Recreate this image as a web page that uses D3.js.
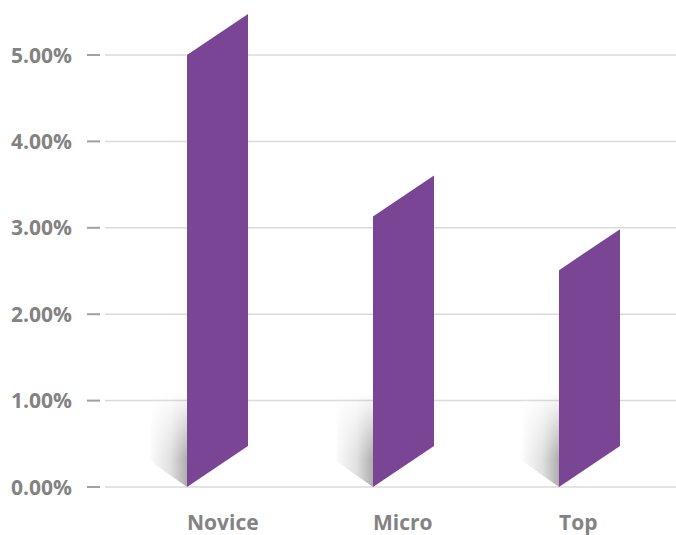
<!DOCTYPE html>
<html>
<head>
<meta charset="utf-8">
<script src="https://cdn.jsdelivr.net/npm/d3@7"></script>
<style>
  html, body { margin: 0; padding: 0; background: #fff; }
  svg { display: block; }
  text { font-family: "Open Sans", "DejaVu Sans", sans-serif; font-weight: 700; fill: #838383; }
</style>
</head>
<body>
<script>
const categories = ["Novice", "Micro", "Top"];
const values = [0.0500, 0.0313, 0.0251];
const tickValues = [0, 0.01, 0.02, 0.03, 0.04, 0.05];
const tickLabels = ["0.00%", "1.00%", "2.00%", "3.00%", "4.00%", "5.00%"];

const W = 676, H = 535;
const svg = d3.select("body").append("svg").attr("width", W).attr("height", H);

const y = d3.scaleLinear().domain([0, 0.05]).range([487, 55]);
const x = d3.scaleBand().domain(categories).range([187, 620]).paddingInner(0.672).paddingOuter(0);
const depth = 41;

// gridlines
const grid = svg.append("g");
grid.selectAll("line.grid").data(tickValues).join("line")
  .attr("class", "grid")
  .attr("x1", 105).attr("x2", W)
  .attr("y1", d => y(d)).attr("y2", d => y(d))
  .attr("stroke", "#dadada").attr("stroke-width", 1.5);
grid.selectAll("line.tick").data(tickValues).join("line")
  .attr("class", "tick")
  .attr("x1", 87).attr("x2", 100)
  .attr("y1", d => y(d)).attr("y2", d => y(d))
  .attr("stroke", "#a0a0a0").attr("stroke-width", 2);
grid.selectAll("text").data(tickValues).join("text")
  .attr("x", 72).attr("y", d => y(d) + 7.5)
  .attr("text-anchor", "end")
  .attr("font-size", 21)
  .text((d, i) => tickLabels[i]);

// shadow gradients
const defs = svg.append("defs");
const hg = defs.append("linearGradient").attr("id", "shadowH")
  .attr("x1", "1").attr("y1", "0").attr("x2", "0").attr("y2", "0");
hg.append("stop").attr("offset", "0").attr("stop-color", "#aeaeae");
hg.append("stop").attr("offset", "0.45").attr("stop-color", "#e0e0e0");
hg.append("stop").attr("offset", "1").attr("stop-color", "#fbfbfb");
const vg = defs.append("linearGradient").attr("id", "fadeV")
  .attr("x1", "0").attr("y1", "1").attr("x2", "0").attr("y2", "0");
vg.append("stop").attr("offset", "0").attr("stop-color", "#fff");
vg.append("stop").attr("offset", "0.3").attr("stop-color", "#fff");
vg.append("stop").attr("offset", "1").attr("stop-color", "#000");
defs.append("mask").attr("id", "shadowMask").attr("maskContentUnits", "objectBoundingBox")
  .append("rect").attr("x", 0).attr("y", 0).attr("width", 1).attr("height", 1)
  .attr("fill", "url(#fadeV)");

const bars = svg.append("g");
categories.forEach((c, i) => {
  const x0 = x(c), w = x.bandwidth();
  const sx = w * 0.6;
  bars.append("path")
    .attr("d", `M${x0},${y(0)} L${x0 - sx},${y(0) - depth * 0.63} L${x0 - sx},${y(0) - 95} L${x0},${y(0) - 95} Z`)
    .attr("fill", "url(#shadowH)")
    .attr("mask", "url(#shadowMask)");
  bars.append("path")
    .attr("d", `M${x0},${y(values[i])} L${x0 + w},${y(values[i]) - depth} L${x0 + w},${y(0) - depth} L${x0},${y(0)} Z`)
    .attr("fill", "#7b4596");
  svg.append("text")
    .attr("x", x0).attr("y", 530)
    .attr("font-size", 21)
    .text(c);
});
</script>
</body>
</html>
